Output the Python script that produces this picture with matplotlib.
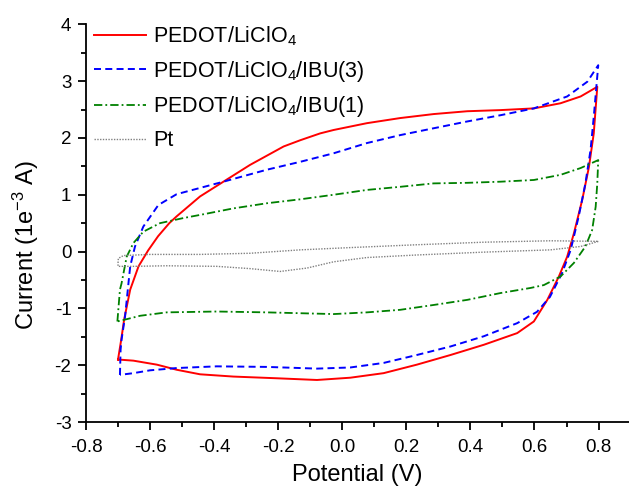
import matplotlib
matplotlib.use("Agg")
import matplotlib.pyplot as plt
from matplotlib.ticker import MultipleLocator

plt.rcParams["font.family"] = ["Liberation Sans", "DejaVu Sans"]
plt.rcParams["mathtext.fontset"] = "custom"
plt.rcParams["mathtext.rm"] = "Liberation Sans"
plt.rcParams["mathtext.it"] = "Liberation Sans:italic"
plt.rcParams["mathtext.bf"] = "Liberation Sans:bold"

# Cyclic voltammograms (potential in V, current in 1e-3 A), one closed loop each
licl_x = [-0.700, -0.690, -0.681, -0.662, -0.636, -0.606, -0.575, -0.540, -0.517,
          -0.444, -0.371, -0.288, -0.183, -0.131, -0.069, -0.027, 0.077, 0.181,
          0.285, 0.390, 0.494, 0.598, 0.681, 0.744, 0.796,
          0.785, 0.770, 0.749, 0.723, 0.702, 0.676, 0.640, 0.598, 0.546, 0.442,
          0.338, 0.233, 0.129, 0.025, -0.079, -0.204, -0.340, -0.444, -0.517,
          -0.579, -0.652, -0.700]
licl_y = [-1.90, -1.55, -1.20, -0.67, -0.26, 0.02, 0.27, 0.50, 0.62,
          0.97, 1.23, 1.525, 1.85, 1.96, 2.08, 2.14, 2.26, 2.35,
          2.42, 2.47, 2.49, 2.52, 2.61, 2.73, 2.90,
          2.08, 1.49, 0.91, 0.32, -0.09, -0.44, -0.85, -1.23, -1.435, -1.64,
          -1.82, -1.99, -2.14, -2.22, -2.26, -2.23, -2.20, -2.16, -2.08,
          -1.99, -1.92, -1.90]

ibu3_x = [-0.694, -0.692, -0.689, -0.678, -0.662, -0.647, -0.621, -0.574, -0.517,
          -0.444, -0.371, -0.236, -0.131, -0.027, 0.077, 0.181, 0.285, 0.390,
          0.494, 0.598, 0.702, 0.765, 0.799,
          0.785, 0.775, 0.759, 0.738, 0.713, 0.686, 0.648, 0.608, 0.546, 0.442,
          0.338, 0.233, 0.129, 0.025, -0.079, -0.236, -0.392, -0.517, -0.600,
          -0.652, -0.694]
ibu3_y = [-2.17, -1.73, -1.55, -1.14, -0.26, 0.09, 0.44, 0.82, 1.01,
          1.12, 1.23, 1.44, 1.58, 1.73, 1.91, 2.05, 2.17, 2.29,
          2.40, 2.52, 2.73, 2.99, 3.28,
          2.37, 1.79, 1.20, 0.62, 0.03, -0.38, -0.80, -1.06, -1.26, -1.49,
          -1.67, -1.82, -1.96, -2.04, -2.06, -2.03, -2.02, -2.05, -2.09,
          -2.14, -2.17]

ibu1_x = [-0.702, -0.694, -0.689, -0.673, -0.652, -0.621, -0.569, -0.496, -0.444,
          -0.340, -0.236, -0.131, -0.027, 0.077, 0.181, 0.285, 0.390, 0.494,
          0.598, 0.681, 0.744, 0.799,
          0.796, 0.791, 0.780, 0.759, 0.723, 0.681, 0.629, 0.588, 0.494, 0.390,
          0.285, 0.181, 0.077, -0.027, -0.236, -0.392, -0.548, -0.631, -0.673,
          -0.702]
ibu1_y = [-1.23, -0.67, -0.56, -0.09, 0.15, 0.35, 0.50, 0.59, 0.645,
          0.76, 0.85, 0.92, 1.00, 1.085, 1.14, 1.20, 1.21, 1.23,
          1.26, 1.35, 1.47, 1.61,
          1.20, 0.79, 0.38, 0.09, -0.20, -0.44, -0.59, -0.64, -0.73, -0.85,
          -0.94, -1.025, -1.07, -1.10, -1.07, -1.055, -1.07, -1.13, -1.19,
          -1.23]

pt_x = [-0.700, -0.699, -0.683, -0.600, -0.444, -0.288, -0.131, 0.025, 0.233,
        0.442, 0.650, 0.800,
        0.744, 0.650, 0.442, 0.233, 0.077, -0.027, -0.110, -0.194, -0.288,
        -0.392, -0.548, -0.652, -0.700, -0.700]
pt_y = [-0.20, -0.12, -0.07, -0.05, -0.05, -0.03, 0.03, 0.07, 0.12,
        0.165, 0.19, 0.18,
        0.09, 0.03, -0.01, -0.06, -0.105, -0.18, -0.29, -0.35, -0.30,
        -0.26, -0.25, -0.26, -0.26, -0.20]

labels = ["PEDOT/LiClO$_4$", "PEDOT/LiClO$_4$/IBU(3)",
          "PEDOT/LiClO$_4$/IBU(1)", "Pt"]
xtick_labels = ["-0.8", "-0.6", "-0.4", "-0.2", "0.0", "0.2", "0.4", "0.6", "0.8"]
ytick_labels = ["-3", "-2", "-1", "0", "1", "2", "3", "4"]

fig = plt.figure(figsize=(6.29, 4.88), dpi=100)
ax = fig.add_axes([0.1367, 0.1352, 0.8633, 0.815])

ax.plot(licl_x, licl_y, color="#ff0000", lw=1.4, label=labels[0])
ax.plot(ibu3_x, ibu3_y, color="#0000ff", lw=1.4, dashes=(3.6, 2.2), label=labels[1])
ax.plot(ibu1_x, ibu1_y, color="#008000", lw=1.3, dashes=(4.6, 1.7, 1.0, 1.7), label=labels[2])
ax.plot(pt_x, pt_y, color="#808080", lw=1.0, dashes=(1.0, 1.0), label=labels[3])

ax.set_xlim(-0.8, 0.895)
ax.set_ylim(-3, 4)
ax.xaxis.set_minor_locator(MultipleLocator(0.1))
ax.yaxis.set_minor_locator(MultipleLocator(0.5))
ax.set_xticks([float(t) for t in xtick_labels])
ax.set_xticklabels(xtick_labels)
ax.set_yticks([int(t) for t in ytick_labels])
ax.set_yticklabels(ytick_labels)

for s in ["top", "right"]:
    ax.spines[s].set_visible(False)
for s in ["left", "bottom"]:
    ax.spines[s].set_linewidth(1.3)
ax.tick_params(which="major", direction="out", length=6, width=1.3, labelsize=13.5)
ax.tick_params(which="minor", direction="out", length=3.5, width=1.3)
ax.tick_params(axis="x", which="major", pad=6)
ax.tick_params(axis="y", which="major", pad=4.5)

ax.set_xlabel("Potential (V)", fontsize=17, labelpad=6)
ax.set_ylabel("Current (1e$^{-3}$ A)", fontsize=17)
ax.yaxis.set_label_coords(-0.083, 0.445)

ax.legend(loc="upper left", bbox_to_anchor=(0.015, 1.0), frameon=False,
          fontsize=15.5, handlelength=2.42, handletextpad=0.33, labelspacing=0.5,
          borderpad=0.0, borderaxespad=0.0)

fig.savefig("out.png", dpi=100)
